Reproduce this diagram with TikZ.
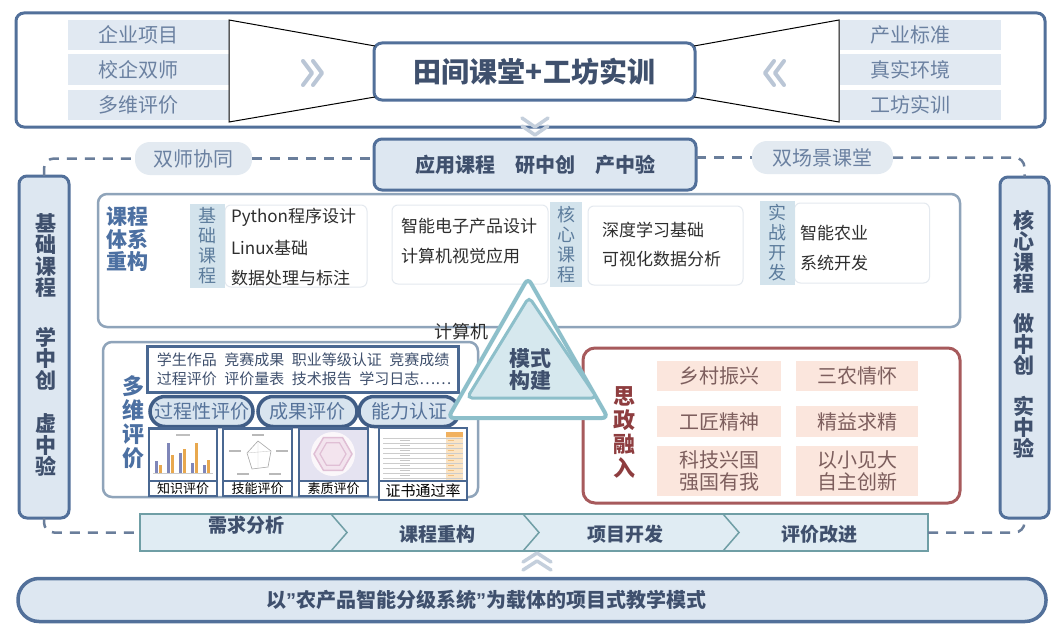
\documentclass[tikz,border=0pt]{standalone}
\usepackage{fontspec}
\setmainfont{Noto Sans CJK SC}
\newfontfamily\latinq{Liberation Sans}
\usetikzlibrary{calc}
\definecolor{steel}{HTML}{52709A}
\definecolor{lfill}{HTML}{DDE7F1}
\definecolor{lbl}{HTML}{E1E9F2}
\definecolor{lbltxt}{HTML}{6B81A1}
\definecolor{dtxt}{HTML}{3F506D}
\definecolor{mblue}{HTML}{4C70A2}
\definecolor{gborder}{HTML}{8FA4BA}
\definecolor{tealc}{HTML}{8DBFCA}
\definecolor{tfill}{HTML}{D6E8EE}
\definecolor{redb}{HTML}{A75A5C}
\definecolor{redt}{HTML}{8E3D3F}
\definecolor{pinkf}{HTML}{FBE6DD}
\definecolor{pinkt}{HTML}{7D5E5D}
\definecolor{stripb}{HTML}{6F9EA5}
\definecolor{stripf}{HTML}{E0ECF3}
\definecolor{tagf}{HTML}{D3E3EC}
\definecolor{tagt}{HTML}{5C7C9C}
\definecolor{chev}{HTML}{BAC6D6}
\definecolor{dashc}{HTML}{6A7E9B}
\definecolor{pillf}{HTML}{E3EAF1}
\definecolor{itemb}{HTML}{E4E9EF}
\definecolor{itemt}{HTML}{2E2E2E}
\definecolor{pillb}{HTML}{405D86}
\definecolor{pillfill}{HTML}{D8E4EF}
\definecolor{pilltxt}{HTML}{56739A}
\definecolor{thumbb}{HTML}{4A6892}
\definecolor{barp}{HTML}{7F86B8}
\definecolor{baro}{HTML}{E8A84E}
\definecolor{lav}{HTML}{E5E3F1}
\definecolor{hexc}{HTML}{E0BFD5}
\definecolor{hexf}{HTML}{F3E4EE}
\definecolor{orl}{HTML}{FBE4C4}
\definecolor{ord}{HTML}{F1B15F}
\newcommand\fsz[2]{\fontsize{#1}{#2}\selectfont}
\begin{document}
\begin{tikzpicture}[x=1pt,y=-1pt,
  every node/.style={inner sep=0pt,outer sep=0pt},
  frame/.style={draw=steel,line width=3pt,rounded corners=8pt},
  lblbox/.style={fill=lbl,minimum width=161pt,minimum height=30pt,text=lbltxt,font=\fsz{20}{24}},
  chevron/.style={draw=chev,line width=4pt,line cap=round,line join=round},
  softchev/.style={draw=chev!85,line width=3.5pt,line cap=round,line join=round},
  funnel/.style={draw=black,line width=1pt},
  pillgray/.style={fill=pillf,rounded corners=15pt,minimum height=33pt,text=lbltxt,font=\fsz{20}{24}},
  dashline/.style={draw=dashc,line width=2.5pt,dash pattern=on 10pt off 8pt,rounded corners=10pt},
  sidebar/.style={draw=steel,line width=3pt,fill=lfill,rounded corners=8pt},
  bartext/.style={text=dtxt,font=\bfseries\fsz{21}{21.5},align=center},
  grayframe/.style={draw=gborder,line width=2.5pt,rounded corners=9pt},
  tagbox/.style={fill=tagf,text=tagt,font=\fsz{18}{20},align=center},
  itembox/.style={draw=itemb,line width=1pt,fill=white,rounded corners=6pt},
  item/.style={text=itemt,font=\fsz{17}{19},anchor=west},
  evalpill/.style={draw=pillb,line width=3.5pt,fill=pillfill,rounded corners=15pt,minimum height=30pt,text=pilltxt,font=\fsz{19}{22}},
  thumb/.style={draw=thumbb,line width=2.5pt,fill=white},
  thumblbl/.style={draw=thumbb,line width=2.5pt,fill=white,text=black},
  redtag/.style={fill=pinkf,text=pinkt,font=\fsz{20}{22},align=center},
  steptext/.style={text=dtxt,font=\bfseries\fsz{19}{22}},
  stripline/.style={draw=stripb,line width=1.5pt},
  grid/.style={draw=gray!40,line width=0.5pt},
]
\fill[white] (0,0) rectangle (1060,634);
\path[use as bounding box] (0,0) rectangle (1060,634);

% ---------- top box ----------
\node[frame,fill=white,minimum width=1029pt,minimum height=114pt] (topbox) at (530.5,70) {};
\node[lblbox] (l1) at (148.5,35) {\hspace*{-20pt}企业项目};
\node[lblbox] (l2) at (148.5,69.5) {\hspace*{-20pt}校企双师};
\node[lblbox] (l3) at (148.5,104.5) {\hspace*{-20pt}多维评价};
\node[lblbox] (r1) at (920.5,35) {\hspace*{-20pt}产业标准};
\node[lblbox] (r2) at (920.5,69.5) {\hspace*{-20pt}真实环境};
\node[lblbox] (r3) at (920.5,104.5) {\hspace*{-20pt}工坊实训};
\node[frame,fill=white,minimum width=321pt,minimum height=57pt,text=dtxt,font=\bfseries\fsz{28}{30}] (ctr) at (534.5,71.5) {田间课堂+工坊实训};
\coordinate (fl1) at (229,20); \coordinate (fl2) at (229,122);
\coordinate (fr1) at (839,20); \coordinate (fr2) at (839,122);
\draw[funnel] ($(ctr.north west)+(1,3)$) -- (fl1) -- (fl2) -- ($(ctr.south west)+(1,-3)$);
\draw[funnel] ($(ctr.north east)+(-1,3)$) -- (fr1) -- (fr2) -- ($(ctr.south east)+(-1,-3)$);
\draw[chevron] (303,61) -- (312,73) -- (303,85);
\draw[chevron] (313,61) -- (322,73) -- (313,85);
\draw[chevron] (774,61) -- (765,73) -- (774,85);
\draw[chevron] (784,61) -- (775,73) -- (784,85);
\draw[softchev] (522,118) -- (535,127) -- (548,118);
\draw[softchev] (522,126) -- (535,135) -- (548,126);

% ---------- side bars and dashed loop ----------
\node[sidebar,minimum width=50pt,minimum height=342pt] (lbar) at (44,347) {};
\node[sidebar,minimum width=49pt,minimum height=341pt] (rbar) at (1024.5,347.5) {};
\node[bartext] (lbart) at (46,345) {基\\础\\课\\程\\[28pt]学\\中\\创\\[22pt]虚\\中\\验};
\node[bartext,font=\bfseries\fsz{21}{21}] (rbart) at (1024,334) {核\\心\\课\\程\\[19pt]做\\中\\创\\[20pt]实\\中\\验};

\node[pillgray,minimum width=117pt] (p1) at (193.5,158.5) {双师协同};
\node[pillgray,minimum width=141pt] (p2) at (822.5,157.5) {双场景课堂};
\node[frame,fill=lfill,minimum width=322pt,minimum height=51pt,text=dtxt,font=\bfseries\fsz{20}{22}] (app) at (535,164.5) {应用课程\hspace{1em}研中创\hspace{1em}产中验};

% ---------- process strip ----------
\node[draw=stripb,line width=2pt,fill=stripf,minimum width=788pt,minimum height=37pt] (strip) at (534,532.5) {};
\draw[stripline] (331,514) -- (347,532.5) -- (331,551);
\draw[stripline] (523,514) -- (539,532.5) -- (523,551);
\draw[stripline] (723,514) -- (739,532.5) -- (723,551);
\node[steptext] (s1) at (246,525) {需求分析};
\node[steptext] (s2) at (437,534) {课程重构};
\node[steptext] (s3) at (625,534) {项目开发};
\node[steptext] (s4) at (819,534) {评价改进};

\draw[dashline] (lbar.north) |- (p1.west);
\draw[dashline] (p1.east) -- (p1.east -| app.west);
\draw[dashline] (p2.west -| app.east) -- (p2.west);
\draw[dashline] (p2.east) -| (rbar.north);
\draw[dashline] (lbar.south) |- (strip.west);
\draw[dashline] (strip.east) -| (rbar.south);

% ---------- curriculum ----------
\node[grayframe,minimum width=862pt,minimum height=133pt] (cur) at (529,260.5) {};
\node[text=mblue,font=\bfseries\fsz{21}{22.5},align=left] (curt) at (127,239.5) {课程\\体系\\重构};
\node[itembox,minimum width=142pt,minimum height=82pt] (ib1) at (296,246) {};
\node[tagbox,minimum width=35pt,minimum height=84pt] (tg1) at (207.5,246) {基\\础\\课\\程};
\node[item] (i11) at (231,217) {Python程序设计};
\node[item] (i12) at (231,248) {Linux基础};
\node[item] (i13) at (231,278) {数据处理与标注};
\node[itembox,minimum width=156pt,minimum height=79pt] (ib2) at (470,244.5) {};
\node[item] (i21) at (401,226) {智能电子产品设计};
\node[item] (i22) at (401,256) {计算机视觉应用};
\node[itembox,minimum width=155pt,minimum height=79pt] (ib3) at (665.5,245.5) {};
\node[tagbox,minimum width=32pt,minimum height=85pt] (tg2) at (566,244.5) {核\\心\\课\\程};
\node[item] (i31) at (602,230) {深度学习基础};
\node[item] (i32) at (602,259) {可视化数据分析};
\node[itembox,minimum width=135pt,minimum height=80pt] (ib4) at (862,243) {};
\node[tagbox,minimum width=35pt,minimum height=84pt] (tg3) at (777,243) {实\\战\\开\\发};
\node[item] (i41) at (800,233) {智能农业};
\node[item] (i42) at (800,263) {系统开发};

\node[text=itemt,font=\fsz{18}{20}] (cj) at (461,332) {计算机};

% ---------- multi evaluation ----------
\node[grayframe,minimum width=375pt,minimum height=155pt] (mev) at (290.5,419.5) {};
\node[text=mblue,font=\bfseries\fsz{22}{24},align=center] (mevt) at (133,422) {多\\维\\评\\价};
\node[draw=thumbb,line width=3pt,fill=white,minimum width=311pt,minimum height=46pt] (ev) at (302.5,369) {};
\node[text=dtxt,font=\fsz{15}{19},align=left] (evt) at (304,369.5) {学生作品\hspace{.5em}竞赛成果\hspace{.5em}职业等级认证\hspace{.5em}竞赛成绩\\过程评价\hspace{.5em}评价量表\hspace{.5em}技术报告\hspace{.5em}学习日志……};
\node[evalpill,minimum width=103pt] (ep1) at (201.5,411.5) {过程性评价};
\node[evalpill,minimum width=99pt] (ep2) at (307.5,411.5) {成果评价};
\node[evalpill,minimum width=100pt] (ep3) at (409,411.5) {能力认证};

% thumbnail 1: bar chart
\node[thumb,minimum width=68pt,minimum height=67pt] (th1) at (183,462) {};
\draw[grid] (153,473) -- (213,473);
\fill[gray!50] (176,434) rectangle (190,436);
\foreach \x/\a/\b in {155/12/8,167/30/18,179/20/24,191/10/30,203/8/13}{
  \fill[barp] (\x,473) rectangle ++(3,-\a);
  \fill[baro] (\x+4,473) rectangle ++(3,-\b);
}
\node[thumblbl,minimum width=68pt,minimum height=15pt,font=\fsz{13}{15}] (th1l) at (183,488.5) {知识评价};
% thumbnail 2: radar
\node[thumb,minimum width=69pt,minimum height=67pt] (th2) at (257.5,462) {};
\draw[gray!70,line width=0.6pt] (258,441) -- (271,451) -- (268,467) -- (252,469) -- (247,453) -- cycle;
\draw[gray!40,line width=0.4pt] (258,441) -- (258,469) (247,453) -- (271,451);
\foreach \p in {(258,435),(282,451),(235,451),(243,474),(275,474)}{\fill[gray!55] \p ++(-6,-1) rectangle ++(12,2);}
\node[thumblbl,minimum width=69pt,minimum height=15pt,font=\fsz{13}{15}] (th2l) at (257.5,488.5) {技能评价};
% thumbnail 3: hexagon
\node[thumb,fill=lav,minimum width=69pt,minimum height=67pt] (th3) at (333.5,462) {};
\fill[white!70!hexf] (333,454) circle (22);
\draw[hexc,fill=hexf,line width=1.5pt] (333,454) ++(0:19) -- ++(120:19) -- ++(180:19) -- ++(240:19) -- ++(300:19) -- ++(0:19) -- cycle;
\draw[hexc,line width=1.2pt] (333,454) ++(0:13) -- ++(120:13) -- ++(180:13) -- ++(240:13) -- ++(300:13) -- ++(0:13) -- cycle;
\node[thumblbl,minimum width=69pt,minimum height=15pt,font=\fsz{13}{15}] (th3l) at (333.5,488.5) {素质评价};
% thumbnail 4: table
\node[thumb,minimum width=88pt,minimum height=72pt] (th4) at (423,464) {};
\fill[orl] (446,432) rectangle (463,480);
\fill[ord] (446,432) rectangle (463,437);
\foreach \y in {438,443,448,453,458,463,468,473,478}{\draw[grid] (383,\y) -- (463,\y);}
\foreach \y in {440,445,450,455,460,465,470,475}{\fill[gray!45] (400,\y) rectangle ++(10,1.2); \fill[ord!80] (448,\y) rectangle ++(6,1.2);}
\node[thumblbl,minimum width=88pt,minimum height=19pt,font=\fsz{15}{17}] (th4l) at (423,490.5) {证书通过率};

% ---------- ideology ----------
\node[draw=redb,line width=3pt,rounded corners=12pt,minimum width=377pt,minimum height=155pt] (sz) at (771.5,425.5) {};
\node[text=redt,font=\bfseries\fsz{22}{23.7},align=center] (szt) at (624,432.5) {思\\政\\融\\入};
\node[redtag,minimum width=124pt,minimum height=30pt] (t1) at (719,376) {乡村振兴};
\node[redtag,minimum width=122pt,minimum height=30pt] (t2) at (857,376) {三农情怀};
\node[redtag,minimum width=124pt,minimum height=31pt] (t3) at (719,421.5) {工匠精神};
\node[redtag,minimum width=122pt,minimum height=31pt] (t4) at (857,421.5) {精益求精};
\node[redtag,minimum width=124pt,minimum height=50pt] (t5) at (719,471) {科技兴国\\强国有我};
\node[redtag,minimum width=122pt,minimum height=50pt] (t6) at (857,471) {以小见大\\自主创新};

% ---------- bottom ----------
\draw[softchev] (523,562) -- (537,553) -- (551,562);
\draw[softchev] (523,570) -- (537,561) -- (551,570);
\node[draw=steel,line width=3.5pt,fill=lfill,rounded corners=21pt,minimum width=1028pt,minimum height=43pt] (base) at (532,600) {};
\node[text=dtxt,font=\bfseries\fsz{20}{22}] (baset) at (486,600) {以{\latinq\bfseries ”}农产品智能分级系统{\latinq\bfseries ”}为载体的项目式教学模式};

% ---------- triangle ----------
\draw[tealc,line width=4pt,fill=white,rounded corners=6pt] (528,278) -- (608,418) -- (448,418) -- cycle;
\draw[tealc,line width=3pt,fill=tfill,rounded corners=5pt] (529,297) -- (597,398) -- (467,398) -- cycle;
\node[text=dtxt,font=\bfseries\fsz{21}{22},align=center] (mode) at (530,369) {模式\\构建};
\end{tikzpicture}
\end{document}
